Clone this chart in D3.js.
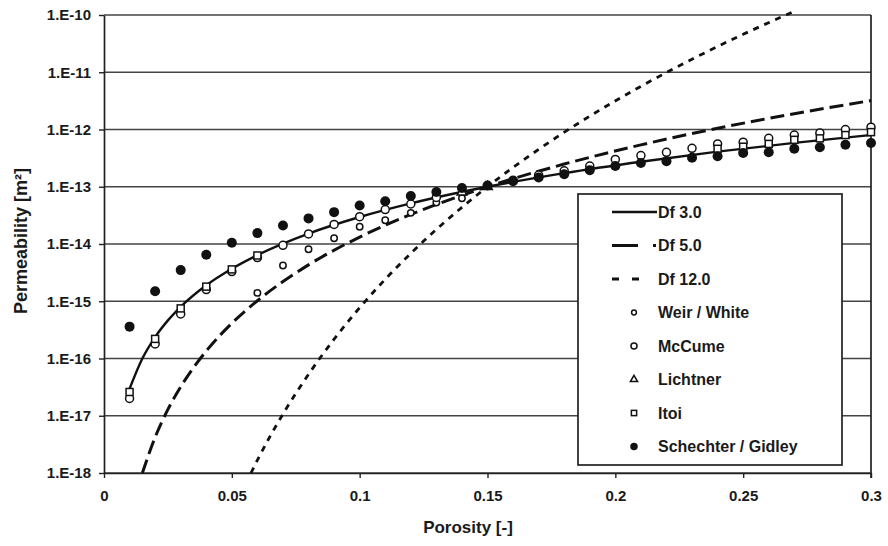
<!DOCTYPE html>
<html>
<head>
<meta charset="utf-8">
<script src="https://cdn.jsdelivr.net/npm/d3@7"></script>
<style>
  body { margin: 0; background: #fff; }
  svg text { font-family: "Liberation Sans", Arial, sans-serif; font-weight: bold; fill: #1a1a1a; }
</style>
</head>
<body>
<svg id="chart"></svg>
<script>
// fitted curves (porosity -> permeability)
var df3Phi = [0.01, 0.015, 0.02, 0.025, 0.03, 0.04, 0.05, 0.06, 0.08, 0.10, 0.12, 0.15, 0.18, 0.21, 0.24, 0.27, 0.30];
var df3K = [2.96e-17, 1.0e-16, 2.37e-16, 4.63e-16, 8.0e-16, 1.9e-15, 3.7e-15, 6.4e-15, 1.52e-14, 2.96e-14, 5.12e-14, 1.0e-13, 1.73e-13, 2.74e-13, 4.1e-13, 5.83e-13, 8.0e-13];

var df5Phi = [0.015, 0.02, 0.025, 0.03, 0.04, 0.05, 0.06, 0.07, 0.08, 0.10, 0.12, 0.15, 0.18, 0.21, 0.24, 0.27, 0.30];
var df5K = [1.0e-18, 4.21e-18, 1.29e-17, 3.2e-17, 1.35e-16, 4.12e-16, 1.02e-15, 2.21e-15, 4.32e-15, 1.32e-14, 3.28e-14, 1.0e-13, 2.49e-13, 5.38e-13, 1.05e-12, 1.89e-12, 3.2e-12];

var df12Phi = [0.0575, 0.06, 0.07, 0.08, 0.09, 0.10, 0.11, 0.12, 0.13, 0.14, 0.15, 0.17, 0.19, 0.21, 0.23, 0.25, 0.27];
var df12K = [1.0e-18, 1.68e-18, 1.07e-17, 5.29e-17, 2.18e-16, 7.71e-16, 2.42e-15, 6.87e-15, 1.8e-14, 4.37e-14, 1.0e-13, 4.49e-13, 1.71e-12, 5.67e-12, 1.69e-11, 4.6e-11, 1.16e-10];

// measured data sets
var weirPhi = [0.06, 0.07, 0.08, 0.09, 0.10, 0.11, 0.12, 0.13, 0.14];
var weirK = [1.4e-15, 4.2e-15, 8.1e-15, 1.26e-14, 2.0e-14, 2.6e-14, 3.5e-14, 5.3e-14, 6.3e-14];

var mccumePhi = [0.01, 0.02, 0.03, 0.04, 0.05, 0.06, 0.07, 0.08, 0.09, 0.10, 0.11, 0.12, 0.13,
                 0.16, 0.17, 0.18, 0.19, 0.20, 0.21, 0.22, 0.23, 0.24, 0.25, 0.26, 0.27, 0.28, 0.29, 0.30];
var mccumeK = [2.0e-17, 1.8e-16, 6.0e-16, 1.6e-15, 3.3e-15, 5.8e-15, 9.5e-15, 1.5e-14, 2.2e-14, 3.0e-14, 4.0e-14, 5.0e-14, 6.5e-14,
               1.3e-13, 1.6e-13, 1.9e-13, 2.3e-13, 3.0e-13, 3.5e-13, 4.0e-13, 4.7e-13, 5.6e-13, 6.0e-13, 7.0e-13, 8.0e-13, 8.7e-13, 1.0e-12, 1.1e-12];

var lichtnerPhi = [0.14, 0.15];
var lichtnerK = [8.0e-14, 1.0e-13];

var itoiPhi = [0.01, 0.02, 0.03, 0.04, 0.05, 0.06, 0.24, 0.25, 0.26, 0.27, 0.28, 0.29, 0.30];
var itoiK = [2.6e-17, 2.2e-16, 7.5e-16, 1.8e-15, 3.6e-15, 6.3e-15, 4.6e-13, 5.0e-13, 5.6e-13, 6.6e-13, 7.0e-13, 8.0e-13, 9.0e-13];

var schechterPhi = [0.01, 0.02, 0.03, 0.04, 0.05, 0.06, 0.07, 0.08, 0.09, 0.10, 0.11, 0.12, 0.13, 0.14, 0.15,
                    0.16, 0.17, 0.18, 0.19, 0.20, 0.21, 0.22, 0.23, 0.24, 0.25, 0.26, 0.27, 0.28, 0.29, 0.30];
var schechterK = [3.6e-16, 1.5e-15, 3.5e-15, 6.5e-15, 1.05e-14, 1.55e-14, 2.1e-14, 2.8e-14, 3.6e-14, 4.7e-14, 5.6e-14, 6.9e-14, 8.1e-14, 9.5e-14, 1.05e-13,
                  1.25e-13, 1.45e-13, 1.65e-13, 1.95e-13, 2.3e-13, 2.6e-13, 2.8e-13, 3.2e-13, 3.4e-13, 3.9e-13, 4.0e-13, 4.6e-13, 4.9e-13, 5.4e-13, 5.8e-13];

// axis ticks
var yTicks = [1e-18, 1e-17, 1e-16, 1e-15, 1e-14, 1e-13, 1e-12, 1e-11, 1e-10];
var xTicks = [0, 0.05, 0.1, 0.15, 0.2, 0.25, 0.3];
var xTickLabels = ["0", "0.05", "0.1", "0.15", "0.2", "0.25", "0.3"];

// set the dimensions and margins of the graph
var margin = {top: 15, right: 17, bottom: 73, left: 104},
    width = 888 - margin.left - margin.right,
    height = 546 - margin.top - margin.bottom;

var svg = d3.select("#chart")
    .attr("width", 888)
    .attr("height", 546)
    .append("g")
    .attr("transform", "translate(" + margin.left + "," + margin.top + ")");

var x = d3.scaleLinear().domain([0, 0.3]).range([0, width]);
var y = d3.scaleLog().domain([1e-18, 1e-10]).range([height, 0]);

// horizontal gridlines
svg.selectAll(".grid")
    .data(yTicks)
    .enter().append("line")
    .attr("x1", 0)
    .attr("x2", width)
    .attr("y1", d => y(d))
    .attr("y2", d => y(d))
    .attr("stroke", "#444")
    .attr("stroke-width", 1.7);

// right border
svg.append("line")
    .attr("x1", width).attr("x2", width)
    .attr("y1", 0).attr("y2", height + 5)
    .attr("stroke", "#222").attr("stroke-width", 1.7);

// y axis
var yAxis = svg.append("g")
    .call(d3.axisLeft(y).tickValues(yTicks).tickSize(5).tickSizeOuter(0)
        .tickFormat(d => "1.E-" + Math.round(-Math.log10(d))));
yAxis.select(".domain").attr("stroke", "#222").attr("stroke-width", 1.7);
yAxis.selectAll(".tick line").attr("stroke", "#222").attr("stroke-width", 1.4);
yAxis.selectAll("text").attr("x", -13).style("font-size", "15px").attr("fill", "#1a1a1a");

// x axis
var xAxis = svg.append("g")
    .attr("transform", "translate(0," + height + ")")
    .call(d3.axisBottom(x).tickValues(xTicks).tickSize(5).tickSizeOuter(0)
        .tickFormat((d, i) => xTickLabels[i]));
xAxis.select(".domain").attr("stroke", "#222").attr("stroke-width", 1.7);
xAxis.selectAll(".tick line").attr("stroke", "#222").attr("stroke-width", 1.4);
xAxis.selectAll("text").attr("y", 17).style("font-size", "15px").attr("fill", "#1a1a1a");

// axis titles
svg.append("text")
    .attr("x", 364)
    .attr("y", height + 60)
    .attr("text-anchor", "middle")
    .style("font-size", "17px")
    .text("Porosity [-]");

svg.append("text")
    .attr("transform", "rotate(-90)")
    .attr("x", -226)
    .attr("y", -77)
    .attr("text-anchor", "middle")
    .style("font-size", "18px")
    .text("Permeability [m²]");

// legend box (drawn before the marks so curves run over it)
var legend = svg.append("g").attr("transform", "translate(" + (578 - margin.left) + "," + (194 - margin.top) + ")");
legend.append("rect")
    .attr("width", 264).attr("height", 271)
    .attr("fill", "#fff").attr("stroke", "#222").attr("stroke-width", 1.7);

// fitted curves
var line = d3.line()
    .x(d => x(d[0]))
    .y(d => y(d[1]))
    .curve(d3.curveMonotoneX);

var curves = [
    {name: "Df 3.0", phi: df3Phi, k: df3K, dash: null, w: 2.4},
    {name: "Df 5.0", phi: df5Phi, k: df5K, dash: "14,6", w: 3},
    {name: "Df 12.0", phi: df12Phi, k: df12K, dash: "6,6", w: 2.8}
];

curves.forEach(c => {
    svg.append("path")
        .datum(c.phi.map((p, i) => [p, c.k[i]]))
        .attr("d", line)
        .attr("fill", "none")
        .attr("stroke", "#111")
        .attr("stroke-width", c.w)
        .attr("stroke-dasharray", c.dash);
});

// marker drawing helper
function drawMarker(g, type, cx, cy, size) {
    if (type === "smallcircle") {
        g.append("circle").attr("cx", cx).attr("cy", cy).attr("r", 3.2 * size)
            .attr("fill", "#fff").attr("stroke", "#111").attr("stroke-width", 1.5);
    } else if (type === "circle") {
        g.append("circle").attr("cx", cx).attr("cy", cy).attr("r", 4 * size)
            .attr("fill", "#fff").attr("stroke", "#111").attr("stroke-width", 1.5);
    } else if (type === "triangle") {
        g.append("path").attr("d", d3.symbol(d3.symbolTriangle, 40 * size * size)())
            .attr("transform", "translate(" + cx + "," + cy + ")")
            .attr("fill", "#fff").attr("stroke", "#111").attr("stroke-width", 1.5);
    } else if (type === "square") {
        var s = 7 * size;
        g.append("rect").attr("x", cx - s / 2).attr("y", cy - s / 2).attr("width", s).attr("height", s)
            .attr("fill", "#fff").attr("stroke", "#111").attr("stroke-width", 1.5);
    } else {
        g.append("circle").attr("cx", cx).attr("cy", cy).attr("r", 5 * size)
            .attr("fill", "#111");
    }
}

var sets = [
    {name: "Weir / White", phi: weirPhi, k: weirK, type: "smallcircle"},
    {name: "McCume", phi: mccumePhi, k: mccumeK, type: "circle"},
    {name: "Lichtner", phi: lichtnerPhi, k: lichtnerK, type: "triangle"},
    {name: "Itoi", phi: itoiPhi, k: itoiK, type: "square"},
    {name: "Schechter / Gidley", phi: schechterPhi, k: schechterK, type: "filled"}
];

var marks = svg.append("g");
sets.forEach(s => {
    s.phi.forEach((p, i) => drawMarker(marks, s.type, x(p), y(s.k[i]), 1));
});

// legend rows
var rowY = d => 18 + d * 33.5;
curves.forEach((c, i) => {
    var len = c.name === "Df 12.0" ? 29 : (c.name === "Df 5.0" ? 44 : 45);
    legend.append("line")
        .attr("x1", 34).attr("x2", 34 + len)
        .attr("y1", rowY(i)).attr("y2", rowY(i))
        .attr("stroke", "#111")
        .attr("stroke-width", c.w + 0.2)
        .attr("stroke-dasharray", c.name === "Df 12.0" ? "7,13" : (c.name === "Df 5.0" ? "26,15" : null));
    legend.append("text")
        .attr("x", 80).attr("y", rowY(i))
        .attr("dy", "0.35em")
        .style("font-size", "16px")
        .text(c.name);
});
sets.forEach((s, i) => {
    drawMarker(legend, s.type, 56, rowY(i + 3), 0.75);
    legend.append("text")
        .attr("x", 80).attr("y", rowY(i + 3))
        .attr("dy", "0.35em")
        .style("font-size", "16px")
        .text(s.name);
});
</script>
</body>
</html>
